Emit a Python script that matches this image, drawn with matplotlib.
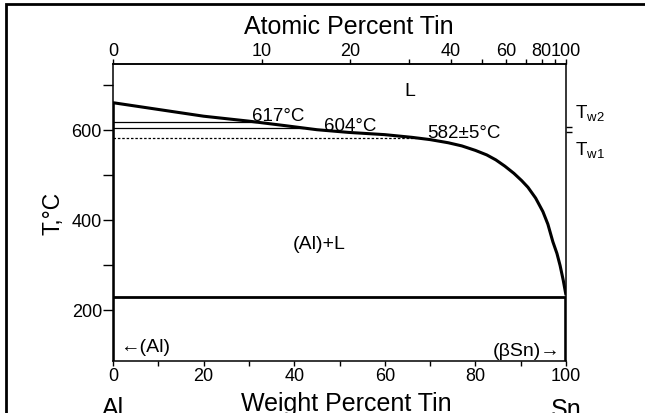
import numpy as np
import matplotlib.pyplot as plt
from matplotlib.patches import Rectangle

plt.rcParams["font.family"] = ["Liberation Sans", "DejaVu Sans"]

# liquidus of Al-Sn (wt% Sn, deg C)
liq_wt = [0, 10, 20, 30, 38, 45, 52, 60, 66, 70, 74, 77, 80, 82.5, 84.5, 86.5, 88.5, 90.2, 91.6, 93.3, 94.9, 96, 97.1, 98, 98.7, 99.4, 100]
liq_T = [660, 645, 630, 619, 609, 600, 594, 589, 583, 578, 571, 564, 554, 544, 533, 519, 503, 487, 472, 448, 418, 390, 351, 325, 298, 265, 232]
eutectic_T = 228
iso_T = [617, 604]          # solid lines
iso_dash_T = 582            # dashed line
tw_T = [606, 595]           # T_w2, T_w1 marks on right spine

wt_ticks = [0, 20, 40, 60, 80, 100]
wt_minor = [10, 30, 50, 70, 90]
at_ticks = [0, 10, 20, 40, 60, 80, 100]
at_minor = [30, 50, 70, 90]
T_ticks = [200, 400, 600]
T_minor = [300, 500, 700]

M_AL, M_SN = 26.98, 118.71


def wt2at(w):
    w = np.clip(np.asarray(w, float), 0, 100)
    a = w / M_SN
    b = (100 - w) / M_AL
    return 100 * a / np.where(a + b == 0, 1, a + b)


def at2wt(x):
    x = np.clip(np.asarray(x, float), 0, 100)
    a = x * M_SN
    b = (100 - x) * M_AL
    return 100 * a / np.where(a + b == 0, 1, a + b)


fig = plt.figure(figsize=(6.45, 4.14), dpi=100)
ax = fig.add_axes([113 / 645, 1 - 362 / 414, 453 / 645, 297 / 414])
ax.set_xlim(0, 100)
ax.set_ylim(86, 746)

ax.plot(liq_wt, liq_T, color="black", lw=2.2, solid_capstyle="butt", solid_joinstyle="round")
ax.plot([0, 100], [eutectic_T, eutectic_T], color="black", lw=2.0)

for t in iso_T:
    xe = np.interp(-t, -np.array(liq_T), liq_wt)
    ax.plot([0, xe], [t, t], color="black", lw=0.9)
xe = np.interp(-iso_dash_T, -np.array(liq_T), liq_wt)
ax.plot([0, xe], [iso_dash_T, iso_dash_T], color="black", lw=0.9, ls=(0, (2, 1.5)))

# Al side and Sn side solid phases
ax.plot([0, 0], [86, 660], color="black", lw=2.6, solid_capstyle="butt")
ax.plot([100, 100], [86, eutectic_T], color="black", lw=2.6, solid_capstyle="butt")

for s in ax.spines.values():
    s.set_linewidth(1.1)

ax.set_xticks(wt_ticks)
ax.set_xticks(wt_minor, minor=True)
ax.set_xticklabels([str(v) for v in wt_ticks], fontsize=13)
ax.set_yticks(T_ticks)
ax.set_yticks(T_minor, minor=True)
ax.set_yticklabels([str(v) for v in T_ticks], fontsize=13)
ax.tick_params(axis="y", which="both", direction="out", length=7, width=1, pad=1)
ax.tick_params(axis="x", which="both", direction="out", length=3.5, width=1, pad=1)

# right spine marks
ax.plot([100] * 2, tw_T, ls="none", marker=1, ms=4, mew=1, color="black", clip_on=False)
ax.text(102, tw_T[0] + 32, r"T$_{\mathregular{w2}}$", fontsize=13.5, va="center")
ax.text(102, tw_T[1] - 40, r"T$_{\mathregular{w1}}$", fontsize=13.5, va="center")

sec = ax.secondary_xaxis("top", functions=(wt2at, at2wt))
sec.set_xticks(at_ticks)
sec.set_xticks(at_minor, minor=True)
sec.set_xticklabels([str(v) for v in at_ticks], fontsize=13)
sec.tick_params(which="both", direction="out", length=3.5, width=1, pad=0)
sec.spines["top"].set_linewidth(1.1)

ax.text(0.52, 1.105, "Atomic Percent Tin", transform=ax.transAxes, fontsize=18,
        ha="center", va="baseline")
ax.text(0.515, -0.1, "Weight Percent Tin", transform=ax.transAxes, fontsize=18,
        ha="center", va="top")
ax.set_ylabel("T,°C", fontsize=16.5, labelpad=5)

ax.text(65.5, 688, "L", fontsize=14, ha="center", va="center")
ax.text(45.6, 347, "(Al)+L", fontsize=14, ha="center", va="center")
ax.text(36.5, 621, "617°C", fontsize=13.5, ha="center", va="baseline")
ax.text(52.3, 599, "604°C", fontsize=13.5, ha="center", va="baseline")
ax.text(77.5, 584, "582±5°C", fontsize=13.5, ha="center", va="baseline")
ax.text(1.5, 118, "←(Al)", fontsize=14, ha="left", va="center")
ax.text(98.7, 110, "(βSn)→", fontsize=14, ha="right", va="center")
ax.text(0, -0.118, "Al", transform=ax.transAxes, fontsize=18, ha="center", va="top")
ax.text(1, -0.122, "Sn", transform=ax.transAxes, fontsize=18, ha="center", va="top")

fig.add_artist(Rectangle((0.009, -0.2), 1.2, 1.188, transform=fig.transFigure,
                         fill=False, lw=2, ec="black"))

fig.savefig("out.png", dpi=100)
